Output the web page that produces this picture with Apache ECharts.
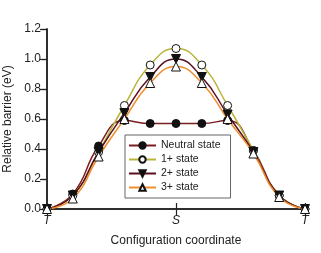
<!DOCTYPE html>
<html><head><meta charset="utf-8">
<script src="https://cdn.jsdelivr.net/npm/echarts@6/dist/echarts.min.js"></script>
<style>html,body{margin:0;padding:0;background:#fff}#c{width:321px;height:253px}</style>
</head><body><div id="c"></div>
<script>
const positions = [0,1,2,3,4,5,6,7,8,9,10];
const tickLabels = {0:'T',5:'S',10:'T'};
const neutral = [0,0.10,0.42,0.59,0.57,0.57,0.57,0.59,0.39,0.09,0];
const plus1 =   [0,0.09,0.38,0.69,0.96,1.07,0.96,0.69,0.39,0.09,0];
const plus2 =   [0,0.09,0.38,0.64,0.88,1.00,0.88,0.63,0.38,0.09,0];
const plus3 =   [0,0.07,0.35,0.60,0.84,0.95,0.84,0.60,0.37,0.08,0];
const names = ['Neutral state','1+ state','2+ state','3+ state'];

const pair = arr => positions.map((x,i)=>[x,arr[i]]);
const font = 'Liberation Sans, Arial, sans-serif';
function mk(name, data, color, symbol, fill, rot){
  return {name, type:'line', data:pair(data), smooth:0.5,
    lineStyle:{color, width:1.5}, itemStyle:{color:fill, borderColor:'#111', borderWidth:1},
    symbol, symbolSize: symbol==='circle'?8:9, symbolRotate:rot||0, showSymbol:true, z: 3};
}
const chart = echarts.init(document.getElementById('c'), null, {renderer:'canvas'});
chart.setOption({
  animation:false,
  textStyle:{fontFamily:font},
  grid:{left:47,right:16,top:29,bottom:44,outerBoundsMode:'none',containLabel:false},
  xAxis:[{type:'value',min:0,max:10,interval:5,
    name:'Configuration coordinate',nameLocation:'middle',nameGap:26,
    nameTextStyle:{fontSize:12,color:'#222',fontFamily:font},
    axisLine:{lineStyle:{color:'#222',width:1.5}},
    axisTick:{inside:true,length:6,lineStyle:{color:'#222',width:1.2}},
    axisLabel:{formatter:v=>tickLabels[v]||'',fontStyle:'italic',fontSize:12,color:'#222',margin:6},
    splitLine:{show:false}},
   {type:'value',position:'top',min:0,max:10,interval:5,
    axisLine:{show:true,lineStyle:{color:'#222',width:1.5}},
    axisTick:{inside:true,length:6,lineStyle:{color:'#222',width:1.2}},
    axisLabel:{show:false},splitLine:{show:false}}],
  yAxis:[{type:'value',min:0,max:1.2,interval:0.2,
    name:'Relative barrier (eV)',nameLocation:'middle',nameGap:29,
    nameTextStyle:{fontSize:12,color:'#222',fontFamily:font},
    axisLine:{show:true,lineStyle:{color:'#222',width:1.5}},
    axisTick:{show:true,inside:false,length:5,lineStyle:{color:'#222',width:1.2}},
    axisLabel:{formatter:v=>v.toFixed(1),fontSize:12,color:'#222',margin:6},
    splitLine:{show:false}},
   {type:'value',position:'right',min:0,max:1.2,interval:0.2,
    axisLine:{show:true,lineStyle:{color:'#222',width:1.5}},
    axisTick:{show:true,inside:true,length:7,lineStyle:{color:'#222',width:1.2}},
    axisLabel:{show:false},splitLine:{show:false}}],
  legend:{orient:'vertical',left:125,top:135,data:names,
    borderColor:'#666',borderWidth:1,backgroundColor:'#fff',
    padding:[5,10,5,3],itemGap:3,itemWidth:27,itemHeight:8,
    textStyle:{fontSize:10.5,color:'#222',fontFamily:font},z:10},
  series:[
    mk(names[0],neutral,'#7a1e22','circle','#111'),
    mk(names[1],plus1,'#b9b53c','circle','#fff'),
    mk(names[2],plus2,'#5a0f1e','triangle','#111',180),
    mk(names[3],plus3,'#ef8e2e','triangle','#fff')
  ]
});
</script></body></html>
